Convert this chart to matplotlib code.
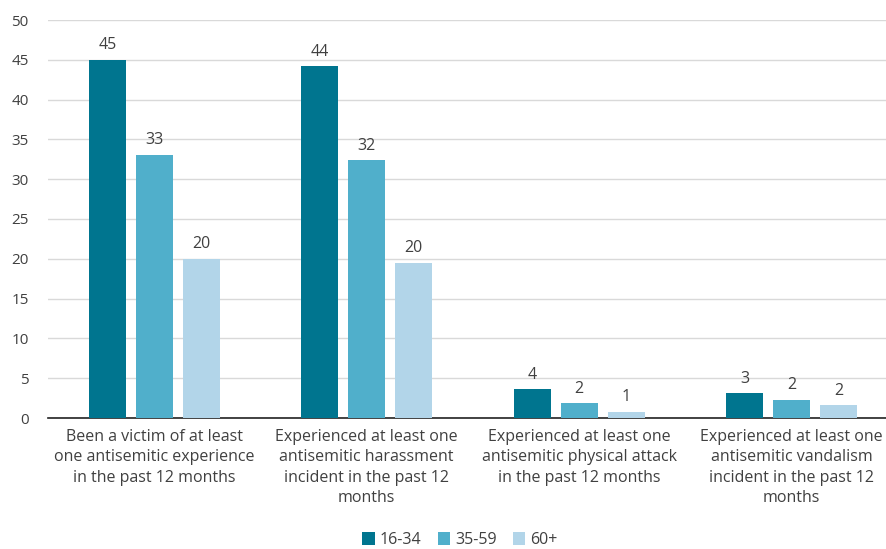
import numpy as np
import matplotlib.pyplot as plt

plt.rcParams['font.family'] = ['Open Sans', 'DejaVu Sans']

categories = [
    "Been a victim of at least\none antisemitic experience\nin the past 12 months",
    "Experienced at least one\nantisemitic harassment\nincident in the past 12\nmonths",
    "Experienced at least one\nantisemitic physical attack\nin the past 12 months",
    "Experienced at least one\nantisemitic vandalism\nincident in the past 12\nmonths",
]
series = ["16-34", "35-59", "60+"]
values = {
    "16-34": [45.0, 44.2, 3.6, 3.1],
    "35-59": [33.1, 32.4, 1.9, 2.3],
    "60+": [20.0, 19.5, 0.8, 1.6],
}
labels = {
    "16-34": ["45", "44", "4", "3"],
    "35-59": ["33", "32", "2", "2"],
    "60+": ["20", "20", "1", "2"],
}
colors = ["#00758f", "#50afcb", "#b2d5e9"]
text_col = "#404040"

fig = plt.figure(figsize=(8.87, 5.49), dpi=100)
ax = fig.add_axes([48 / 887, 1 - 418 / 549, 850 / 887, 398 / 549])

x = np.arange(len(categories))
w = 0.174
step = 0.221
for i, s in enumerate(series):
    pos = x + (i - 1) * step
    bars = ax.bar(pos, values[s], width=w, color=colors[i], label=s, zorder=3)
    for b, lab in zip(bars, labels[s]):
        ax.text(b.get_x() + b.get_width() / 2, b.get_height() + 0.8, lab,
                ha='center', va='bottom', fontsize=11.5, color=text_col)

ax.set_xlim(-0.5, 3.5)
ax.set_ylim(0, 50)
ax.set_yticks(range(0, 51, 5))
ax.yaxis.grid(True, color="#d9d9d9", linewidth=1, zorder=0)
ax.set_axisbelow(True)
for sp in ['top', 'right', 'left']:
    ax.spines[sp].set_visible(False)
ax.spines['bottom'].set_color('#222222')
ax.spines['bottom'].set_linewidth(1.2)
ax.tick_params(axis='y', length=0, labelsize=11, labelcolor=text_col, pad=14)
ax.tick_params(axis='x', length=0, labelsize=11.5, labelcolor=text_col, pad=8)
ax.set_xticks(x)
ax.set_xticklabels(categories, linespacing=1.35)

ax.legend(loc='lower center', bbox_to_anchor=(412 / 850, -0.355), ncol=3,
          frameon=False, fontsize=11.5, handlelength=0.8, handleheight=0.8,
          handletextpad=0.3, columnspacing=1.0, labelcolor=text_col,
          borderpad=0.2)

fig.savefig("out.png", dpi=100)
